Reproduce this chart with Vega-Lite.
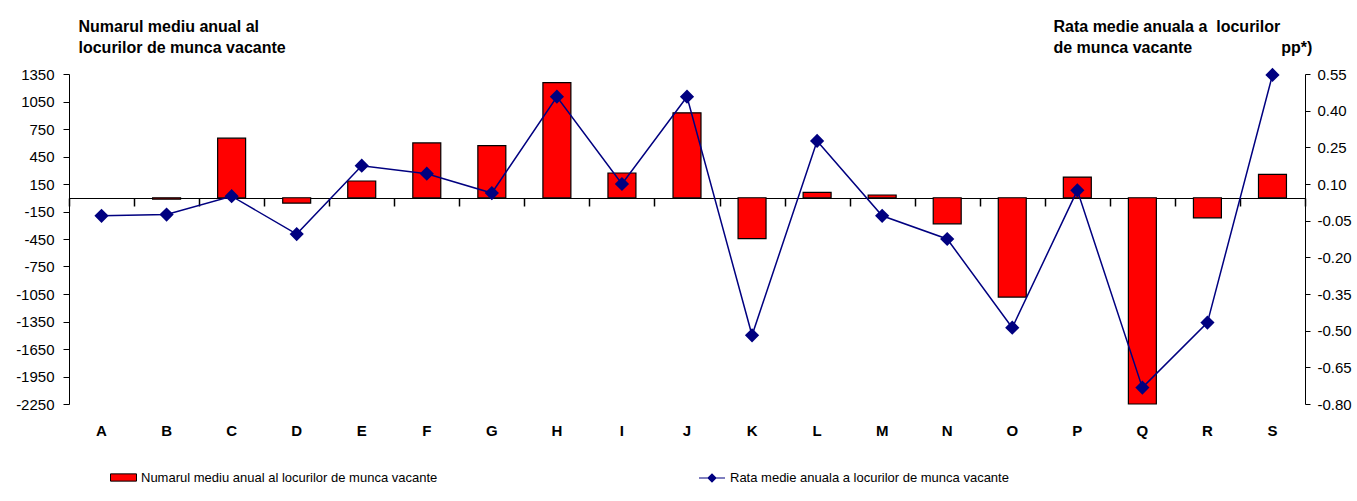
{
  "$schema": "https://vega.github.io/schema/vega-lite/v6.json",
  "width": 1236,
  "height": 330,
  "autosize": {"type": "none"},
  "padding": {"left": 69, "top": 74, "right": 52, "bottom": 97},
  "background": "white",
  "config": {"view": {"stroke": null}, "font": "Liberation Sans"},
  "data": {
    "values": [
      {"cat": "A", "locuri": null, "rata": -0.03},
      {"cat": "B", "locuri": -15, "rata": -0.025},
      {"cat": "C", "locuri": 650, "rata": 0.05},
      {"cat": "D", "locuri": -58, "rata": -0.105},
      {"cat": "E", "locuri": 183, "rata": 0.175},
      {"cat": "F", "locuri": 598, "rata": 0.142},
      {"cat": "G", "locuri": 569, "rata": 0.063},
      {"cat": "H", "locuri": 1255, "rata": 0.457},
      {"cat": "I", "locuri": 270, "rata": 0.1},
      {"cat": "J", "locuri": 927, "rata": 0.457},
      {"cat": "K", "locuri": -445, "rata": -0.519},
      {"cat": "L", "locuri": 58, "rata": 0.276},
      {"cat": "M", "locuri": 30, "rata": -0.03},
      {"cat": "N", "locuri": -284, "rata": -0.125},
      {"cat": "O", "locuri": -1083, "rata": -0.488},
      {"cat": "P", "locuri": 226, "rata": 0.074},
      {"cat": "Q", "locuri": -2250, "rata": -0.733},
      {"cat": "R", "locuri": -219, "rata": -0.467},
      {"cat": "S", "locuri": 255, "rata": 0.546}
    ]
  },
  "layer": [
    {
      "mark": {"type": "bar", "stroke": "black", "strokeWidth": 1.2, "width": {"band": 0.43}},
      "encoding": {
        "x": {
          "field": "cat", "type": "nominal",
          "scale": {"type": "band", "paddingInner": 0, "paddingOuter": 0},
          "axis": {"orient": "bottom", "domain": false, "ticks": false, "labelAngle": 0, "labelFont": "Liberation Sans", "labelFontSize": 15, "labelFontWeight": "bold", "labelColor": "black", "labelPadding": 19, "title": null}
        },
        "y": {
          "field": "locuri", "type": "quantitative",
          "scale": {"domain": [-2250, 1350], "nice": false, "zero": false},
          "axis": {
            "orient": "left",
            "values": [-2250, -1950, -1650, -1350, -1050, -750, -450, -150, 150, 450, 750, 1050, 1350],
            "labelExpr": "replace(format(datum.value, 'd'), '\u2212', '-')",
            "grid": false, "domainColor": "black", "tickColor": "black", "tickSize": 6,
            "labelFont": "Liberation Sans", "labelFontSize": 15, "labelColor": "black", "labelPadding": 9,
            "title": ["Numarul mediu anual al", "locurilor de munca vacante"],
            "titleFont": "Liberation Sans", "titleFontSize": 16, "titleFontWeight": "bold", "titleColor": "black",
            "titleAngle": 0, "titleAlign": "left", "titleBaseline": "alphabetic", "titleX": 9, "titleY": -43, "titleLineHeight": 21
          }
        },
        "fill": {
          "datum": "Numarul mediu anual al locurilor de munca vacante", "type": "nominal",
          "scale": {"range": ["#FF0000"]},
          "legend": {
            "orient": "none", "legendX": 41, "legendY": 390, "title": null,
            "labelFont": "Liberation Sans", "labelFontSize": 13, "labelColor": "black", "labelLimit": 600, "labelOffset": 4,
            "symbolType": "M-1,-0.28H1V0.28H-1Z", "symbolSize": 676, "symbolStrokeColor": "black", "symbolStrokeWidth": 1, "symbolOpacity": 1, "padding": 0
          }
        }
      }
    },
    {
      "mark": {"type": "line", "color": "#000080", "strokeWidth": 1.5, "point": {"shape": "diamond", "size": 130, "filled": true, "color": "#000080", "opacity": 1}},
      "encoding": {
        "x": {
          "field": "cat", "type": "nominal",
          "axis": {"orient": "bottom", "offset": -206, "labels": false, "title": null, "domainColor": "black", "tickColor": "black", "tickWidth": 1.5, "tickBand": "extent", "tickSize": 8, "ticks": true, "zindex": 0}
        },
        "y": {
          "field": "rata", "type": "quantitative",
          "scale": {"domain": [-0.8, 0.55], "nice": false, "zero": false},
          "axis": {
            "orient": "right",
            "values": [-0.8, -0.65, -0.5, -0.35, -0.2, -0.05, 0.1, 0.25, 0.4, 0.55],
            "labelExpr": "replace(format(datum.value, '.2f'), '\u2212', '-')",
            "grid": false, "domainColor": "black", "tickColor": "black", "tickSize": 5,
            "labelFont": "Liberation Sans", "labelFontSize": 15, "labelColor": "black", "labelPadding": 7,
            "title": ["Rata medie anuala a\u00a0\u00a0locurilor", "de munca vacante\u00a0\u00a0\u00a0\u00a0\u00a0\u00a0\u00a0\u00a0\u00a0\u00a0\u00a0\u00a0\u00a0\u00a0\u00a0\u00a0\u00a0\u00a0\u00a0\u00a0pp*)"],
            "titleFont": "Liberation Sans", "titleFontSize": 16, "titleFontWeight": "bold", "titleColor": "black",
            "titleAngle": 0, "titleAlign": "left", "titleBaseline": "alphabetic", "titleX": -252, "titleY": -43, "titleLineHeight": 21
          }
        },
        "stroke": {
          "datum": "Rata medie anuala a locurilor de munca vacante", "type": "nominal",
          "scale": {"range": ["#000080"]},
          "legend": {
            "orient": "none", "legendX": 629, "legendY": 390, "title": null,
            "labelFont": "Liberation Sans", "labelFontSize": 13, "labelColor": "black", "labelLimit": 600, "labelOffset": 4,
            "symbolType": "M-1,0H1M-0.3,0L0,-0.3L0.3,0L0,0.3Z", "symbolSize": 676, "symbolFillColor": "#000080", "symbolStrokeWidth": 1.2, "symbolOpacity": 1, "padding": 0
          }
        }
      }
    }
  ],
  "resolve": {"scale": {"y": "independent"}, "axis": {"x": "independent"}}
}
